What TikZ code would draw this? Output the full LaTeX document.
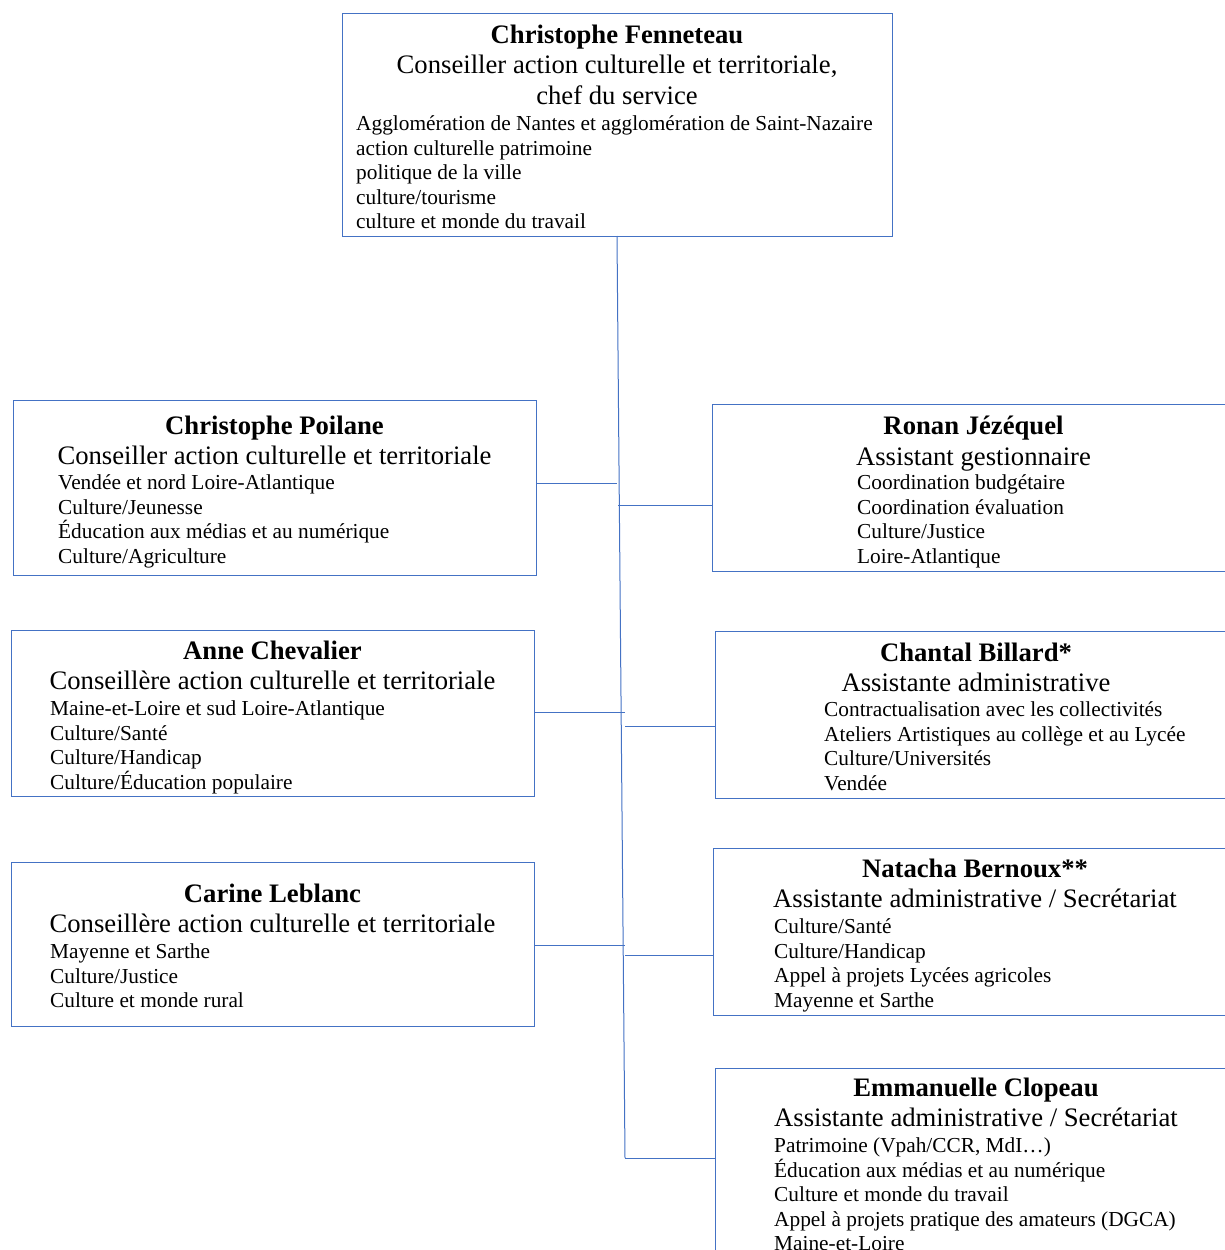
\documentclass[tikz,border=0pt]{standalone}
\usepackage{fontspec}
\setmainfont{Liberation Serif}
\usetikzlibrary{positioning}
\definecolor{orgblue}{RGB}{68,114,196}
\newcommand{\headfont}{\fontsize{26.67}{30.67}\selectfont}
\newcommand{\listfont}{\fontsize{21.33}{24.6}\selectfont}

\begin{document}
\begin{tikzpicture}[x=1pt, y=-1pt,
    box/.style={draw=orgblue, line width=1pt, anchor=north west, inner sep=0pt, outer sep=0pt},
    head/.style={anchor=north, align=center, inner sep=0pt, font=\headfont},
    list/.style={anchor=north west, align=left, inner sep=0pt, font=\listfont},
    link/.style={draw=orgblue, line width=1pt}]

    % Page frame - pixels of the 1225 x 1250 sheet, y pointing down
    \useasboundingbox (0,0) rectangle (1225,1250);
    \clip (0,0) rectangle (1225,1250);

    % Chef du service
    \node[box, minimum width=550pt, minimum height=223pt] (fenneteau) at (342,13) {};
    \node[head] (fenneteau-t) at (617,24.5) {\textbf{Christophe Fenneteau}\\Conseiller action culturelle et territoriale,\\chef du service};
    \node[list] (fenneteau-l) at (356,115.4) {Agglomération de Nantes et agglomération de Saint-Nazaire\\action culturelle patrimoine\\politique de la ville\\culture/tourisme\\culture et monde du travail};

    % Left column - conseillers
    \node[box, minimum width=523pt, minimum height=175pt] (poilane) at (13,400) {};
    \node[head] (poilane-t) at (274.5,415.6) {\textbf{Christophe Poilane}\\Conseiller action culturelle et territoriale};
    \node[list] (poilane-l) at (58,474.4) {Vendée et nord Loire-Atlantique\\Culture/Jeunesse\\Éducation aux médias et au numérique\\Culture/Agriculture};

    \node[box, minimum width=523pt, minimum height=166pt] (chevalier) at (11,630) {};
    \node[head] (chevalier-t) at (272.5,640.6) {\textbf{Anne Chevalier}\\Conseillère action culturelle et territoriale};
    \node[list] (chevalier-l) at (50,700.4) {Maine-et-Loire et sud Loire-Atlantique\\Culture/Santé\\Culture/Handicap\\Culture/Éducation populaire};

    \node[box, minimum width=523pt, minimum height=164pt] (leblanc) at (11,862) {};
    \node[head] (leblanc-t) at (272.5,883.6) {\textbf{Carine Leblanc}\\Conseillère action culturelle et territoriale};
    \node[list] (leblanc-l) at (50,943.4) {Mayenne et Sarthe\\Culture/Justice\\Culture et monde rural};

    % Right column - assistants
    \node[box, minimum width=525pt, minimum height=167pt] (jezequel) at (712,404) {};
    \node[head] (jezequel-t) at (973.5,415.6) {\textbf{Ronan Jézéquel}\\Assistant gestionnaire};
    \node[list] (jezequel-l) at (857,474.4) {Coordination budgétaire\\Coordination évaluation\\Culture/Justice\\Loire-Atlantique};

    \node[box, minimum width=522pt, minimum height=167pt] (billard) at (715,631) {};
    \node[head] (billard-t) at (976,642.6) {\textbf{Chantal Billard*}\\Assistante administrative};
    \node[list] (billard-l) at (824,701.4) {Contractualisation avec les collectivités\\Ateliers Artistiques au collège et au Lycée\\Culture/Universités\\Vendée};

    \node[box, minimum width=524pt, minimum height=167pt] (bernoux) at (713,848) {};
    \node[head] (bernoux-t) at (975,858.6) {\textbf{Natacha Bernoux**}\\Assistante administrative / Secrétariat};
    \node[list] (bernoux-l) at (774,918.4) {Culture/Santé\\Culture/Handicap\\Appel à projets Lycées agricoles\\Mayenne et Sarthe};

    \node[box, minimum width=522pt, minimum height=200pt] (clopeau) at (715,1068) {};
    \node[head] (clopeau-t) at (976,1077.6) {\textbf{Emmanuelle Clopeau}\\Assistante administrative / Secrétariat};
    \node[list] (clopeau-l) at (774,1137.4) {Patrimoine (Vpah/CCR, MdI…)\\Éducation aux médias et au numérique\\Culture et monde du travail\\Appel à projets pratique des amateurs (DGCA)\\Maine-et-Loire};

    % Spine and branches
    \coordinate (spine) at (625,1158);
    \draw[link] (fenneteau.south) -- (spine);
    \draw[link] (spine) -- (spine -| clopeau.west);

    \coordinate (j-poilane) at (617,483);
    \coordinate (j-jezequel) at (618,505);
    \coordinate (j-chevalier) at (625,712);
    \coordinate (j-billard) at (625,726);
    \coordinate (j-leblanc) at (625,945);
    \coordinate (j-bernoux) at (625,955);

    \draw[link] (poilane.east |- j-poilane) -- (j-poilane);
    \draw[link] (j-jezequel) -- (j-jezequel -| jezequel.west);
    \draw[link] (chevalier.east |- j-chevalier) -- (j-chevalier);
    \draw[link] (j-billard) -- (j-billard -| billard.west);
    \draw[link] (leblanc.east |- j-leblanc) -- (j-leblanc);
    \draw[link] (j-bernoux) -- (j-bernoux -| bernoux.west);
\end{tikzpicture}
\end{document}
